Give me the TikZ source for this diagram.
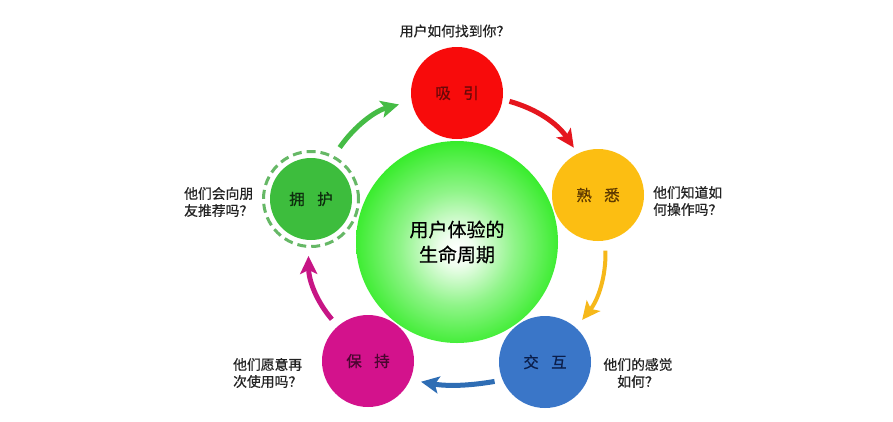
\documentclass[tikz,border=0pt]{standalone}
\usepackage{fontspec}
\newfontfamily\cjk[FakeBold=0.6]{Noto Sans CJK SC}
\usetikzlibrary{arrows.meta}
\definecolor{cred}{HTML}{F80B0B}
\definecolor{credtext}{HTML}{6A0808}
\definecolor{cyellow}{HTML}{FCBE12}
\definecolor{cyellowtext}{HTML}{5E3A00}
\definecolor{cblue}{HTML}{3A76C8}
\definecolor{cbluetext}{HTML}{0B1E4A}
\definecolor{cmag}{HTML}{D3128C}
\definecolor{cmagtext}{HTML}{4A0630}
\definecolor{cgreen}{HTML}{3DBD3D}
\definecolor{cgreentext}{HTML}{0E2E0E}
\definecolor{cring}{HTML}{66B866}
\definecolor{garrow}{HTML}{45BC45}
\definecolor{rarrow}{HTML}{E5161E}
\definecolor{yarrow}{HTML}{F6B81A}
\definecolor{barrow}{HTML}{2E6DB4}
\definecolor{marrow}{HTML}{C71585}
\definecolor{ballgreen}{HTML}{36EC2A}
\definecolor{balledge}{HTML}{28D428}
\definecolor{labtext}{HTML}{222222}
\pgfdeclareradialshading{bigball}{\pgfpoint{0bp}{-2bp}}{color(0bp)=(white); color(4bp)=(white!92!ballgreen); color(14bp)=(white!45!ballgreen); color(26bp)=(ballgreen); color(46bp)=(ballgreen); color(50bp)=(balledge)}
\begin{document}
\begin{tikzpicture}[x=1pt,y=-1pt,
  ball/.style={circle, minimum size=92pt, inner sep=0pt, font=\cjk\fontsize{15.5}{17}\selectfont},
  lab/.style={font=\cjk\fontsize{13.8}{17}\selectfont, text=labtext, inner sep=0pt},
  arr/.style={line width=5pt, -{Stealth[length=18pt,width=17pt,inset=4pt]}, bend left=20}]
\useasboundingbox (0,0) rectangle (893,421);
\fill[white] (0,0) rectangle (893,421);
% central ball
\node[circle, minimum size=202pt, inner sep=0pt, shade, shading=bigball, align=center,
  font=\cjk\fontsize{19}{25}\selectfont, text=black] (center) at (457,242) {用户体验的\\生命周期};
% stage balls
\node[ball, fill=cred, text=credtext] (xiyin) at (457,93) {吸\hspace{0.8em}引};
\node[ball, fill=cyellow, text=cyellowtext] (shuxi) at (598,195) {熟\hspace{0.8em}悉};
\node[ball, fill=cblue, text=cbluetext] (jiaohu) at (545,362) {交\hspace{0.8em}互};
\node[ball, fill=cmag, text=cmagtext] (baochi) at (368,361) {保\hspace{0.8em}持};
\node[ball, minimum size=82pt, fill=cgreen, text=cgreentext] (yonghu) at (311,199) {拥\hspace{0.8em}护};
\node[circle, minimum size=95pt, inner sep=0pt, draw=cring, line width=3pt,
  dash pattern=on 9pt off 5pt] (ring) at (311,199) {};
% arrows
\draw[arr, draw=garrow, shorten <=10pt, shorten >=13pt] (ring.62) to (xiyin.190);
\draw[arr, draw=rarrow, shorten <=7pt, shorten >=7pt] (xiyin.352) to (shuxi.116);
\draw[arr, draw=yarrow, line width=4pt, shorten <=10pt, shorten >=10pt] (shuxi.279) to (jiaohu.48);
\draw[arr, draw=barrow, bend left=10, shorten <=8pt, shorten >=11pt] (jiaohu.203) to (baochi.336);
\draw[arr, draw=marrow, shorten <=9pt, shorten >=8pt] (baochi.131) to (ring.267);
% labels
\node[lab] (q1) at (455,31) {用户如何找到你？};
\node[lab, align=left, anchor=west] (q2) at (653,201) {他们知道如\\何操作吗？};
\node[lab, align=center] (q3) at (638,373) {他们的感觉\\如何？};
\node[lab, align=left, anchor=west] (q4) at (233,373) {他们愿意再\\次使用吗？};
\node[lab, align=left, anchor=west] (q5) at (184,202) {他们会向朋\\友推荐吗？};
\end{tikzpicture}
\end{document}
